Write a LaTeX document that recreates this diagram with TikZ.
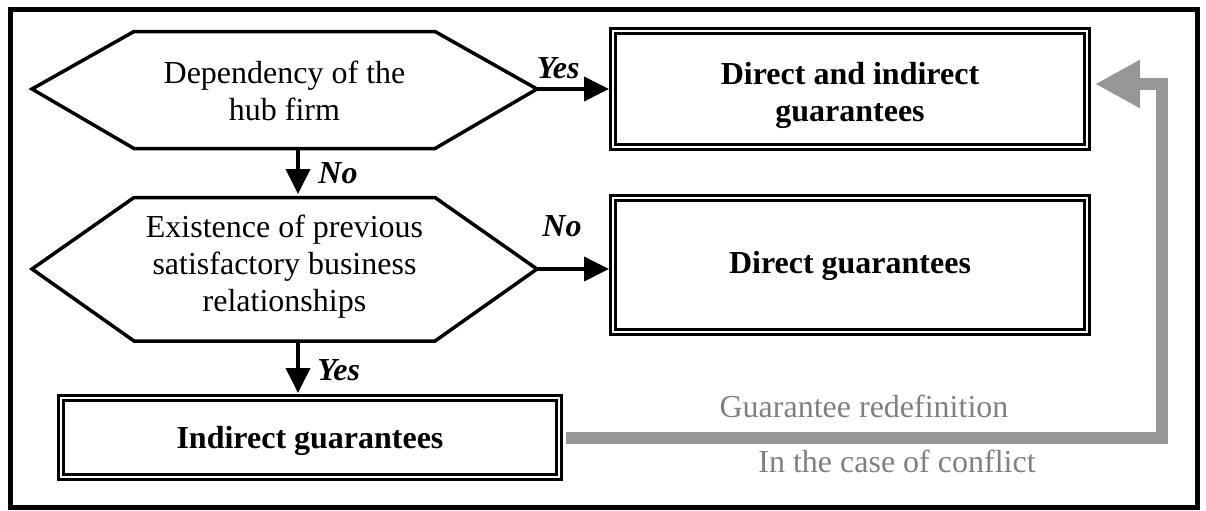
\documentclass[tikz,border=0pt]{standalone}
\usepackage{fontspec}
\setmainfont{Liberation Serif}
\usetikzlibrary{arrows.meta}
\definecolor{arrgray}{RGB}{150,150,150}
\definecolor{txtgray}{RGB}{128,128,128}
\begin{document}
\begin{tikzpicture}[x=0.5pt,y=-0.5pt,
  every node/.style={font=\fontsize{16pt}{18.5pt}\selectfont},
  hexline/.style={draw=black,line width=1.75pt,line join=miter},
  dbox/.style={draw=black,line width=1.4pt,double=white,double distance=1.2pt,
    inner sep=0pt,outer sep=2pt},
  btext/.style={align=center,inner sep=0pt,font=\fontsize{16pt}{18.5pt}\selectfont\bfseries},
  flow/.style={line width=1.9pt,-{Triangle[length=12.5pt,width=12pt]}},
  lbl/.style={font=\fontsize{16pt}{18.5pt}\selectfont\bfseries\itshape,inner sep=0pt},
  back/.style={draw=arrgray,line width=6pt,-{Triangle[length=22.5pt,width=22.5pt]}},
  glbl/.style={text=txtgray,inner sep=0pt}]
\useasboundingbox (0,0) rectangle (1206,510);
% frame
\draw[line width=2.5pt] (10,9.5) rectangle (1197,507.5);
% hexagon 1
\coordinate (h1l) at (32,89);
\coordinate (h1tl) at (134,31.5);
\coordinate (h1tr) at (435,31.5);
\coordinate (h1r) at (537,89);
\coordinate (h1br) at (435,148.5);
\coordinate (h1bl) at (134,148.5);
\draw[hexline] (h1l) -- (h1tl) -- (h1tr) -- (h1r) -- (h1br) -- (h1bl) -- cycle;
\node[align=center] (t1) at (284.5,91) {Dependency of the\\hub firm};
% hexagon 2
\coordinate (h2l) at (32,269);
\coordinate (h2tl) at (134,197.5);
\coordinate (h2tr) at (435,197.5);
\coordinate (h2r) at (537,269);
\coordinate (h2br) at (435,341);
\coordinate (h2bl) at (134,341);
\draw[hexline] (h2l) -- (h2tl) -- (h2tr) -- (h2r) -- (h2br) -- (h2bl) -- cycle;
\node[align=center] (t2) at (284.5,267) {Existence of previous\\satisfactory business\\relationships};
% boxes
\node[dbox,minimum width=237pt,minimum height=58pt] (b1) at (850,89) {};
\node[btext] (b1t) at (850,95) {Direct and indirect\\guarantees};
\node[dbox,minimum width=237pt,minimum height=67pt] (b2) at (850,265) {};
\node[btext] (b2t) at (850,266) {Direct guarantees};
\node[dbox,minimum width=249pt,minimum height=39.5pt] (b3) at (310,437.5) {};
\node[btext] (b3t) at (310,441) {Indirect guarantees};
% arrow endpoints
\coordinate (d1s) at (298,148.5);
\coordinate (d1e) at (298,194);
\coordinate (d2s) at (298,341);
\coordinate (d2e) at (298,393);
\draw[flow] (h1r) -- (b1.west);
\draw[flow] (h2r) -- (h2r -| b2.west);
\draw[flow] (d1s) -- (d1e);
\draw[flow] (d2s) -- (d2e);
% labels
\node[lbl,anchor=base east] (ly1) at (580,78) {Yes};
\node[lbl,anchor=base west] (ln1) at (542,236) {No};
\node[lbl,anchor=base west] (ln2) at (318,183) {No};
\node[lbl,anchor=base west] (ly2) at (317,380) {Yes};
% feedback arrow
\coordinate (gc) at (1162,437.5);
\draw[back,shorten <=1.5pt,shorten >=2pt] (b3.east) -- (gc) |- ([yshift=2.5pt]b1.east);
\node[glbl,anchor=base] (g1) at (864,417) {Guarantee redefinition};
\node[glbl,anchor=base] (g2) at (897,472) {In the case of conflict};
\end{tikzpicture}
\end{document}
